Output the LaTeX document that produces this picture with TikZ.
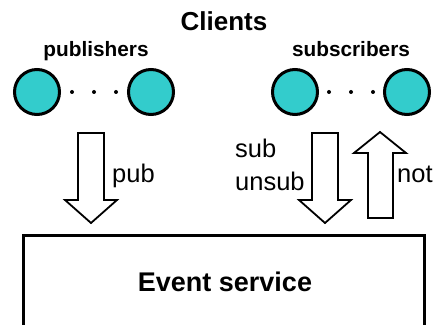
\documentclass[tikz,border=0pt]{standalone}
\usepackage{fontspec}
\setmainfont{Liberation Sans}
\begin{document}
\begin{tikzpicture}[x=1pt,y=1pt,
  client/.style={circle,draw=black,line width=3pt,fill=clientfill,minimum size=45pt,inner sep=0pt},
  dotmark/.style={circle,fill=black,minimum size=4pt,inner sep=0pt},
  grouplabel/.style={font=\fontsize{20.8}{25}\selectfont\bfseries,anchor=base},
  flowlabel/.style={font=\fontsize{25.5}{30}\selectfont,anchor=base west,inner sep=0pt},
  blockarrow/.style={draw=black,line width=1.8pt,fill=white,line join=miter},
  servicebox/.style={draw=black,line width=3pt}]
\definecolor{clientfill}{HTML}{33CCCC}
\useasboundingbox (0,0) rectangle (439,324);

% heading
\node[font=\fontsize{26}{31}\selectfont\bfseries,anchor=base] (clients) at (224,293) {Clients};

% publishers
\node[grouplabel] (publab) at (96,267) {publishers};
\node[client] (p1) at (37,232) {};
\node[client] (p2) at (151,232) {};
\node[dotmark] (pd1) at (72,232) {};
\node[dotmark] (pd2) at (94,232) {};
\node[dotmark] (pd3) at (116,232) {};

% subscribers
\node[grouplabel] (sublab) at (351,267) {subscribers};
\node[client] (s1) at (295,232) {};
\node[client] (s2) at (407,232) {};
\node[dotmark] (sd1) at (329,232) {};
\node[dotmark] (sd2) at (351,232) {};
\node[dotmark] (sd3) at (373,232) {};

% event service box, open at the bottom edge
\node[anchor=base] (service) at (225,32) {\fontsize{27}{32}\selectfont\bfseries Event service};
\draw[servicebox] (23,-5) -- (23,88) -- (424,88) -- (424,-5);

% pub arrow (down)
\draw[blockarrow] (78,191) -- (104,191) -- (104,124) -- (117,124) -- (91,101)
  -- (65,124) -- (78,124) -- cycle;
\node[flowlabel] (pub) at (112,141) {pub};

% sub/unsub arrow (down)
\draw[blockarrow] (312,191) -- (338,191) -- (338,124) -- (351,124) -- (325,101)
  -- (299,124) -- (312,124) -- cycle;
\node[flowlabel] (sub) at (235,166) {sub};
\node[flowlabel] (unsub) at (235,133) {unsub};

% notification arrow (up)
\draw[blockarrow] (368,106) -- (393,106) -- (393,171) -- (406,171) -- (380,192)
  -- (354,171) -- (368,171) -- cycle;
\node[flowlabel] (note) at (397,141) {not};
\end{tikzpicture}
\end{document}
